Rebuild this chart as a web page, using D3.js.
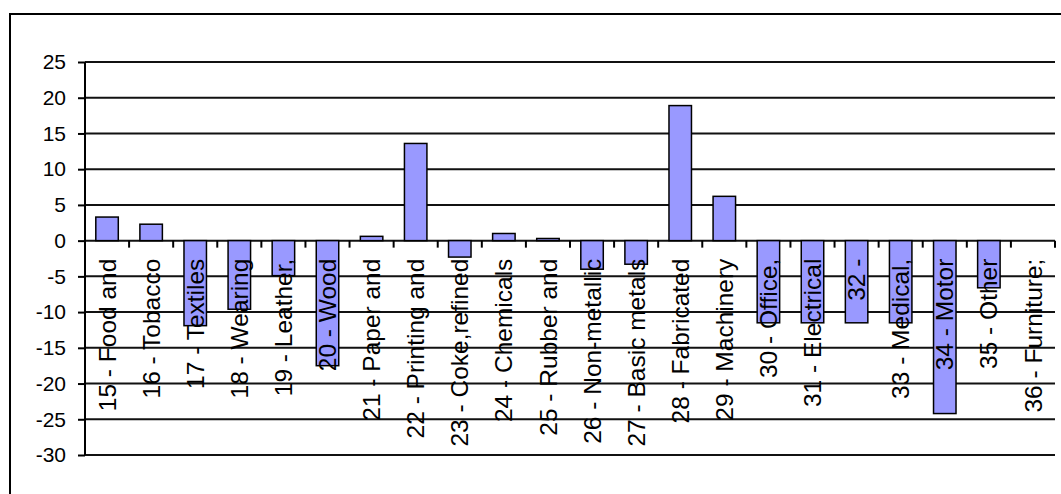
<!DOCTYPE html>
<html>
<head>
<meta charset="utf-8">
<script src="https://cdn.jsdelivr.net/npm/d3@7"></script>
<style>
  html, body { margin: 0; padding: 0; background: #fff; }
  svg { display: block; }
  text { font-family: Arial, "Liberation Sans", sans-serif; fill: #000; }
</style>
</head>
<body>
<svg id="chart" width="1061" height="494"></svg>
<script>
// Industry categories (first line of each label as shown on the axis)
const categories = [
  "15 - Food and", "16 - Tobacco", "17 - Textiles", "18 - Wearing",
  "19 - Leather,", "20 - Wood", "21 - Paper and", "22 - Printing and",
  "23 - Coke,refined", "24 - Chemicals", "25 - Rubber and", "26 - Non-metallic",
  "27 - Basic metals", "28 - Fabricated", "29 - Machinery", "30 - Office,",
  "31 - Electrical", "32 -", "33 - Medical,", "34 - Motor",
  "35 - Other", "36 - Furniture;"
];

// Change per industry
const values = [
  3.3, 2.3, -11.9, -9.6,
  -4.9, -17.5, 0.6, 13.6,
  -2.3, 1.0, 0.3, -4.0,
  -3.3, 18.9, 6.2, -11.5,
  -11.5, -11.5, -11.5, -24.2,
  -6.6, 0
];

const yTicks = [25, 20, 15, 10, 5, 0, -5, -10, -15, -20, -25, -30];

const data = categories.map((c, i) => ({ name: c, value: values[i] }));

const svg = d3.select("#chart");
const plot = { left: 85, right: 1055, top: 62, bottom: 455 };

const x = d3.scaleBand()
  .domain(categories)
  .range([plot.left, plot.right])
  .paddingInner(0).paddingOuter(0);

const y = d3.scaleLinear()
  .domain([-30, 25])
  .range([plot.bottom, plot.top]);

// Outer chart frame
svg.append("rect")
  .attr("x", 10).attr("y", 14)
  .attr("width", 1100).attr("height", 600)
  .attr("fill", "none")
  .attr("stroke", "#000")
  .attr("stroke-width", 2);

// Horizontal gridlines
svg.append("g")
  .selectAll("line")
  .data(yTicks)
  .join("line")
  .attr("x1", plot.left).attr("x2", plot.right)
  .attr("y1", d => y(d)).attr("y2", d => y(d))
  .attr("stroke", "#111")
  .attr("stroke-width", 2);

// Bars
const bw = x.bandwidth() * 0.51;
svg.append("g")
  .selectAll("rect")
  .data(data)
  .join("rect")
  .attr("x", d => x(d.name) + (x.bandwidth() - bw) / 2)
  .attr("width", bw)
  .attr("y", d => y(Math.max(0, d.value)))
  .attr("height", d => Math.abs(y(d.value) - y(0)))
  .attr("fill", "#9999ff")
  .attr("stroke", "#000")
  .attr("stroke-width", 1.5);

// Value axis (plain hyphen for negatives)
const yAxis = d3.axisLeft(y)
  .tickValues(yTicks)
  .tickSize(7)
  .tickPadding(12)
  .tickFormat(d => String(d));

const ya = svg.append("g")
  .attr("transform", `translate(${plot.left},0)`)
  .call(yAxis);
ya.select(".domain").attr("stroke", "#000").attr("stroke-width", 2)
  .attr("d", `M0,${plot.top}V${plot.bottom}`);
ya.selectAll(".tick line").attr("stroke", "#000").attr("stroke-width", 2);
ya.selectAll(".tick text")
  .attr("font-size", 21)
  .attr("font-family", "Arial, 'Liberation Sans', sans-serif")
  .attr("fill", "#000");

// Category axis ticks along the zero line
const bounds = categories.map((c, i) => x(c) + x.bandwidth());
svg.append("g")
  .selectAll("line")
  .data(bounds)
  .join("line")
  .attr("x1", d => d).attr("x2", d => d)
  .attr("y1", y(0)).attr("y2", y(0) + 7)
  .attr("stroke", "#000")
  .attr("stroke-width", 2);

// Rotated category labels
svg.append("g")
  .selectAll("text")
  .data(data)
  .join("text")
  .attr("transform", d => `translate(${x(d.name) + x.bandwidth() / 2},${y(0) + 18}) rotate(-90)`)
  .attr("text-anchor", "end")
  .attr("dy", "0.35em")
  .attr("font-size", 24.5)
  .text(d => d.name);
</script>
</body>
</html>
